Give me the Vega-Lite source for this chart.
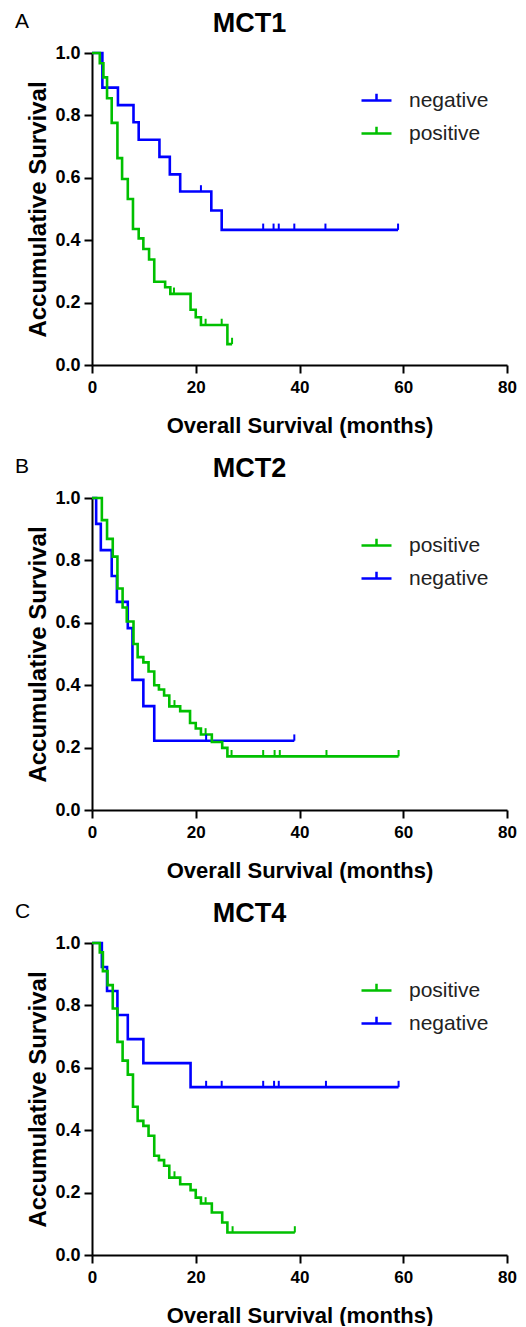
{
  "$schema": "https://vega.github.io/schema/vega-lite/v6.json",
  "padding": {"left": 14, "top": 10, "right": 0, "bottom": 0},
  "datasets": {
    "curves": [
      {"panel": "A", "group": "negative", "month": 0, "surv": 1},
      {"panel": "A", "group": "negative", "month": 2, "surv": 0.889},
      {"panel": "A", "group": "negative", "month": 5, "surv": 0.833},
      {"panel": "A", "group": "negative", "month": 8, "surv": 0.778},
      {"panel": "A", "group": "negative", "month": 9, "surv": 0.722},
      {"panel": "A", "group": "negative", "month": 13, "surv": 0.667},
      {"panel": "A", "group": "negative", "month": 15, "surv": 0.611},
      {"panel": "A", "group": "negative", "month": 17, "surv": 0.556},
      {"panel": "A", "group": "negative", "month": 23, "surv": 0.495},
      {"panel": "A", "group": "negative", "month": 25, "surv": 0.433},
      {"panel": "A", "group": "negative", "month": 59, "surv": 0.433},
      {"panel": "A", "group": "positive", "month": 0, "surv": 1},
      {"panel": "A", "group": "positive", "month": 1.5, "surv": 0.967},
      {"panel": "A", "group": "positive", "month": 2.2, "surv": 0.922},
      {"panel": "A", "group": "positive", "month": 2.9, "surv": 0.855},
      {"panel": "A", "group": "positive", "month": 3.8, "surv": 0.776},
      {"panel": "A", "group": "positive", "month": 4.9, "surv": 0.663},
      {"panel": "A", "group": "positive", "month": 5.8, "surv": 0.596},
      {"panel": "A", "group": "positive", "month": 6.9, "surv": 0.532},
      {"panel": "A", "group": "positive", "month": 7.9, "surv": 0.436},
      {"panel": "A", "group": "positive", "month": 9.0, "surv": 0.406},
      {"panel": "A", "group": "positive", "month": 9.9, "surv": 0.372},
      {"panel": "A", "group": "positive", "month": 11, "surv": 0.338},
      {"panel": "A", "group": "positive", "month": 12, "surv": 0.267},
      {"panel": "A", "group": "positive", "month": 14.1, "surv": 0.249},
      {"panel": "A", "group": "positive", "month": 15.1, "surv": 0.228},
      {"panel": "A", "group": "positive", "month": 19, "surv": 0.177},
      {"panel": "A", "group": "positive", "month": 20, "surv": 0.153},
      {"panel": "A", "group": "positive", "month": 21, "surv": 0.128},
      {"panel": "A", "group": "positive", "month": 26.1, "surv": 0.067},
      {"panel": "A", "group": "positive", "month": 27, "surv": 0.067},
      {"panel": "B", "group": "negative", "month": 0, "surv": 1},
      {"panel": "B", "group": "negative", "month": 0.8, "surv": 0.917},
      {"panel": "B", "group": "negative", "month": 1.7, "surv": 0.833},
      {"panel": "B", "group": "negative", "month": 3.8, "surv": 0.75},
      {"panel": "B", "group": "negative", "month": 4.8, "surv": 0.667},
      {"panel": "B", "group": "negative", "month": 6.9, "surv": 0.583},
      {"panel": "B", "group": "negative", "month": 7.8, "surv": 0.417},
      {"panel": "B", "group": "negative", "month": 9.9, "surv": 0.333},
      {"panel": "B", "group": "negative", "month": 12, "surv": 0.222},
      {"panel": "B", "group": "negative", "month": 39, "surv": 0.222},
      {"panel": "B", "group": "positive", "month": 0, "surv": 1},
      {"panel": "B", "group": "positive", "month": 1.9, "surv": 0.929},
      {"panel": "B", "group": "positive", "month": 2.9, "surv": 0.869},
      {"panel": "B", "group": "positive", "month": 4, "surv": 0.812},
      {"panel": "B", "group": "positive", "month": 4.9, "surv": 0.71},
      {"panel": "B", "group": "positive", "month": 5.9, "surv": 0.649},
      {"panel": "B", "group": "positive", "month": 6.7, "surv": 0.604},
      {"panel": "B", "group": "positive", "month": 8, "surv": 0.532},
      {"panel": "B", "group": "positive", "month": 8.8, "surv": 0.49},
      {"panel": "B", "group": "positive", "month": 9.9, "surv": 0.473},
      {"panel": "B", "group": "positive", "month": 10.9, "surv": 0.444},
      {"panel": "B", "group": "positive", "month": 12, "surv": 0.4},
      {"panel": "B", "group": "positive", "month": 12.9, "surv": 0.386},
      {"panel": "B", "group": "positive", "month": 13.9, "surv": 0.367},
      {"panel": "B", "group": "positive", "month": 14.9, "surv": 0.332},
      {"panel": "B", "group": "positive", "month": 17, "surv": 0.317},
      {"panel": "B", "group": "positive", "month": 18.9, "surv": 0.279},
      {"panel": "B", "group": "positive", "month": 20, "surv": 0.261},
      {"panel": "B", "group": "positive", "month": 21, "surv": 0.242},
      {"panel": "B", "group": "positive", "month": 23.1, "surv": 0.218},
      {"panel": "B", "group": "positive", "month": 25.1, "surv": 0.199},
      {"panel": "B", "group": "positive", "month": 26.1, "surv": 0.172},
      {"panel": "B", "group": "positive", "month": 59.1, "surv": 0.172},
      {"panel": "C", "group": "negative", "month": 0, "surv": 1},
      {"panel": "C", "group": "negative", "month": 1.9, "surv": 0.923},
      {"panel": "C", "group": "negative", "month": 2.9, "surv": 0.846},
      {"panel": "C", "group": "negative", "month": 4.9, "surv": 0.769},
      {"panel": "C", "group": "negative", "month": 6.9, "surv": 0.692},
      {"panel": "C", "group": "negative", "month": 9.9, "surv": 0.615},
      {"panel": "C", "group": "negative", "month": 19, "surv": 0.538},
      {"panel": "C", "group": "negative", "month": 59.1, "surv": 0.538},
      {"panel": "C", "group": "positive", "month": 0, "surv": 1},
      {"panel": "C", "group": "positive", "month": 1.5, "surv": 0.97},
      {"panel": "C", "group": "positive", "month": 2.1, "surv": 0.91},
      {"panel": "C", "group": "positive", "month": 3, "surv": 0.865},
      {"panel": "C", "group": "positive", "month": 4, "surv": 0.79},
      {"panel": "C", "group": "positive", "month": 4.9, "surv": 0.683},
      {"panel": "C", "group": "positive", "month": 5.9, "surv": 0.623},
      {"panel": "C", "group": "positive", "month": 6.9, "surv": 0.578},
      {"panel": "C", "group": "positive", "month": 7.9, "surv": 0.475},
      {"panel": "C", "group": "positive", "month": 8.8, "surv": 0.43},
      {"panel": "C", "group": "positive", "month": 9.9, "surv": 0.414},
      {"panel": "C", "group": "positive", "month": 10.9, "surv": 0.382},
      {"panel": "C", "group": "positive", "month": 12, "surv": 0.318},
      {"panel": "C", "group": "positive", "month": 12.9, "surv": 0.304},
      {"panel": "C", "group": "positive", "month": 13.9, "surv": 0.286},
      {"panel": "C", "group": "positive", "month": 14.9, "surv": 0.248},
      {"panel": "C", "group": "positive", "month": 17, "surv": 0.227},
      {"panel": "C", "group": "positive", "month": 19, "surv": 0.208},
      {"panel": "C", "group": "positive", "month": 20, "surv": 0.184},
      {"panel": "C", "group": "positive", "month": 21, "surv": 0.165},
      {"panel": "C", "group": "positive", "month": 23.1, "surv": 0.136},
      {"panel": "C", "group": "positive", "month": 25.1, "surv": 0.104},
      {"panel": "C", "group": "positive", "month": 26.1, "surv": 0.072},
      {"panel": "C", "group": "positive", "month": 39.1, "surv": 0.072}
    ],
    "censors": [
      {"panel": "A", "group": "negative", "month": 21, "surv": 0.556},
      {"panel": "A", "group": "negative", "month": 33, "surv": 0.433},
      {"panel": "A", "group": "negative", "month": 35, "surv": 0.433},
      {"panel": "A", "group": "negative", "month": 36, "surv": 0.433},
      {"panel": "A", "group": "negative", "month": 39, "surv": 0.433},
      {"panel": "A", "group": "negative", "month": 45, "surv": 0.433},
      {"panel": "A", "group": "negative", "month": 59, "surv": 0.433},
      {"panel": "A", "group": "positive", "month": 15.8, "surv": 0.228},
      {"panel": "A", "group": "positive", "month": 21.9, "surv": 0.128},
      {"panel": "A", "group": "positive", "month": 25, "surv": 0.128},
      {"panel": "A", "group": "positive", "month": 27, "surv": 0.067},
      {"panel": "B", "group": "negative", "month": 22, "surv": 0.222},
      {"panel": "B", "group": "negative", "month": 39, "surv": 0.222},
      {"panel": "B", "group": "positive", "month": 15.9, "surv": 0.332},
      {"panel": "B", "group": "positive", "month": 21.9, "surv": 0.242},
      {"panel": "B", "group": "positive", "month": 26.9, "surv": 0.172},
      {"panel": "B", "group": "positive", "month": 33, "surv": 0.172},
      {"panel": "B", "group": "positive", "month": 35.2, "surv": 0.172},
      {"panel": "B", "group": "positive", "month": 36.2, "surv": 0.172},
      {"panel": "B", "group": "positive", "month": 45.2, "surv": 0.172},
      {"panel": "B", "group": "positive", "month": 59.1, "surv": 0.172},
      {"panel": "C", "group": "negative", "month": 22, "surv": 0.538},
      {"panel": "C", "group": "negative", "month": 25, "surv": 0.538},
      {"panel": "C", "group": "negative", "month": 33, "surv": 0.538},
      {"panel": "C", "group": "negative", "month": 35.1, "surv": 0.538},
      {"panel": "C", "group": "negative", "month": 36, "surv": 0.538},
      {"panel": "C", "group": "negative", "month": 45.1, "surv": 0.538},
      {"panel": "C", "group": "negative", "month": 59.1, "surv": 0.538},
      {"panel": "C", "group": "positive", "month": 15.9, "surv": 0.248},
      {"panel": "C", "group": "positive", "month": 21.9, "surv": 0.165},
      {"panel": "C", "group": "positive", "month": 27.1, "surv": 0.072},
      {"panel": "C", "group": "positive", "month": 39.1, "surv": 0.072}
    ]
  },
  "config": {
    "font": "Liberation Sans",
    "view": {"stroke": null},
    "axis": {
      "grid": false,
      "labelFlush": false,
      "domainColor": "black",
      "domainWidth": 2,
      "tickColor": "black",
      "tickWidth": 2,
      "tickSize": 8,
      "labelFont": "Liberation Sans",
      "labelFontWeight": "bold",
      "labelColor": "black",
      "titleFont": "Liberation Sans",
      "titleFontWeight": "bold",
      "titleColor": "black"
    },
    "axisX": {"labelFontSize": 17, "titleFontSize": 22, "titlePadding": 20, "labelPadding": 6},
    "axisY": {"labelFontSize": 18, "titleFontSize": 24, "titlePadding": 4, "labelPadding": 4},
    "legend": {
      "orient": "none",
      "title": null,
      "padding": 0,
      "symbolType": "M-1,0L1,0M0,0L0,-0.45",
      "symbolSize": 900,
      "symbolStrokeWidth": 2.5,
      "labelFontSize": 21,
      "labelFont": "Liberation Sans",
      "labelColor": "#222222",
      "labelOffset": 16,
      "rowPadding": 6
    },
    "title": {"font": "Liberation Sans", "color": "black"}
  },
  "spacing": 19,
  "resolve": {"scale": {"color": "independent", "stroke": "independent"}, "legend": {"color": "independent"}},
  "vconcat": [
    {
      "title": {"text": "A", "anchor": "start", "fontSize": 21, "fontWeight": "normal", "dy": 26, "dx": -12},
      "vconcat": [
        {
          "title": {"text": "MCT1", "fontSize": 27, "fontWeight": "bold", "anchor": "middle", "offset": 6, "dx": -50},
          "width": 415,
          "height": 312,
          "layer": [
            {
              "data": {"name": "curves"},
              "transform": [{"filter": "datum.panel == 'A'"}],
              "mark": {"type": "line", "interpolate": "step-after", "strokeWidth": 2.6},
              "encoding": {
                "x": {"field": "month", "type": "quantitative", "scale": {"domain": [0, 80], "nice": false}, "axis": {"values": [0, 20, 40, 60, 80], "title": "Overall Survival (months)"}},
                "y": {"field": "surv", "type": "quantitative", "scale": {"domain": [0, 1], "nice": false}, "axis": {"values": [0, 0.2, 0.4, 0.6, 0.8, 1], "format": ".1f", "title": "Accumulative Survival"}},
                "color": {"field": "group", "type": "nominal", "scale": {"domain": ["negative", "positive"], "range": ["#0000ff", "#00c000"]}, "legend": {"legendX": 268, "legendY": 31}},
                "detail": {"field": "group"}
              }
            },
            {
              "data": {"name": "censors"},
              "transform": [{"filter": "datum.panel == 'A'"}],
              "mark": {"type": "point", "shape": "M0,0L0,-1", "size": 160, "strokeWidth": 2, "filled": false, "opacity": 1},
              "encoding": {
                "x": {"field": "month", "type": "quantitative"},
                "y": {"field": "surv", "type": "quantitative"},
                "stroke": {"field": "group", "type": "nominal", "scale": {"domain": ["negative", "positive"], "range": ["#0000ff", "#00c000"]}, "legend": null}
              }
            }
          ]
        }
      ]
    },
    {
      "title": {"text": "B", "anchor": "start", "fontSize": 21, "fontWeight": "normal", "dy": 26, "dx": -12},
      "vconcat": [
        {
          "title": {"text": "MCT2", "fontSize": 27, "fontWeight": "bold", "anchor": "middle", "offset": 6, "dx": -50},
          "width": 415,
          "height": 312,
          "layer": [
            {
              "data": {"name": "curves"},
              "transform": [{"filter": "datum.panel == 'B'"}],
              "mark": {"type": "line", "interpolate": "step-after", "strokeWidth": 2.6},
              "encoding": {
                "x": {"field": "month", "type": "quantitative", "scale": {"domain": [0, 80], "nice": false}, "axis": {"values": [0, 20, 40, 60, 80], "title": "Overall Survival (months)"}},
                "y": {"field": "surv", "type": "quantitative", "scale": {"domain": [0, 1], "nice": false}, "axis": {"values": [0, 0.2, 0.4, 0.6, 0.8, 1], "format": ".1f", "title": "Accumulative Survival"}},
                "color": {"field": "group", "type": "nominal", "scale": {"domain": ["positive", "negative"], "range": ["#00c000", "#0000ff"]}, "legend": {"legendX": 268, "legendY": 31}},
                "detail": {"field": "group"}
              }
            },
            {
              "data": {"name": "censors"},
              "transform": [{"filter": "datum.panel == 'B'"}],
              "mark": {"type": "point", "shape": "M0,0L0,-1", "size": 160, "strokeWidth": 2, "filled": false, "opacity": 1},
              "encoding": {
                "x": {"field": "month", "type": "quantitative"},
                "y": {"field": "surv", "type": "quantitative"},
                "stroke": {"field": "group", "type": "nominal", "scale": {"domain": ["positive", "negative"], "range": ["#00c000", "#0000ff"]}, "legend": null}
              }
            }
          ]
        }
      ]
    },
    {
      "title": {"text": "C", "anchor": "start", "fontSize": 21, "fontWeight": "normal", "dy": 26, "dx": -12},
      "vconcat": [
        {
          "title": {"text": "MCT4", "fontSize": 27, "fontWeight": "bold", "anchor": "middle", "offset": 6, "dx": -50},
          "width": 415,
          "height": 312,
          "layer": [
            {
              "data": {"name": "curves"},
              "transform": [{"filter": "datum.panel == 'C'"}],
              "mark": {"type": "line", "interpolate": "step-after", "strokeWidth": 2.6},
              "encoding": {
                "x": {"field": "month", "type": "quantitative", "scale": {"domain": [0, 80], "nice": false}, "axis": {"values": [0, 20, 40, 60, 80], "title": "Overall Survival (months)"}},
                "y": {"field": "surv", "type": "quantitative", "scale": {"domain": [0, 1], "nice": false}, "axis": {"values": [0, 0.2, 0.4, 0.6, 0.8, 1], "format": ".1f", "title": "Accumulative Survival"}},
                "color": {"field": "group", "type": "nominal", "scale": {"domain": ["positive", "negative"], "range": ["#00c000", "#0000ff"]}, "legend": {"legendX": 268, "legendY": 31}},
                "detail": {"field": "group"}
              }
            },
            {
              "data": {"name": "censors"},
              "transform": [{"filter": "datum.panel == 'C'"}],
              "mark": {"type": "point", "shape": "M0,0L0,-1", "size": 160, "strokeWidth": 2, "filled": false, "opacity": 1},
              "encoding": {
                "x": {"field": "month", "type": "quantitative"},
                "y": {"field": "surv", "type": "quantitative"},
                "stroke": {"field": "group", "type": "nominal", "scale": {"domain": ["positive", "negative"], "range": ["#00c000", "#0000ff"]}, "legend": null}
              }
            }
          ]
        }
      ]
    }
  ]
}
